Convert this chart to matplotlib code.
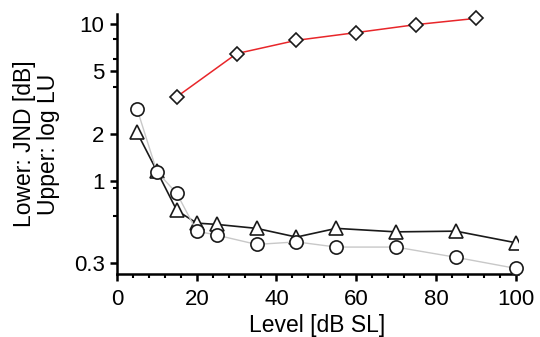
import numpy as np
import matplotlib
matplotlib.use("Agg")
import matplotlib.pyplot as plt

plt.rcParams['font.family'] = ['Liberation Sans', 'DejaVu Sans']

# Data
level_upper = [15, 30, 45, 60, 75, 90]
log_lu = [3.45, 6.5, 7.9, 8.85, 9.95, 10.9]

level_lower = [5, 10, 15, 20, 25, 35, 45, 55, 70, 85, 100]
jnd_triangle = [2.05, 1.16, 0.65, 0.54, 0.53, 0.50, 0.44, 0.50, 0.475, 0.48, 0.405]
jnd_circle = [2.90, 1.15, 0.835, 0.48, 0.453, 0.395, 0.41, 0.38, 0.38, 0.327, 0.278]

y_ticks = [0.3, 1, 2, 5, 10]
y_tick_labels = ["0.3", "1", "2", "5", "10"]
y_minor = [0.6, 0.9, 4, 6, 8]
x_ticks = [0, 20, 40, 60, 80, 100]

fig = plt.figure(figsize=(5.4, 3.37), dpi=100)
ax = fig.add_axes([0.2167, 0.187, 0.742, 0.771])

# Kurva bawah (JND)
ax.plot(level_lower, jnd_triangle, color='#1a1a1a', lw=1.2, marker='^', ms=9.5,
        mfc='white', mec='#1a1a1a', mew=1.2, zorder=3)
ax.plot(level_lower, jnd_circle, color='#c8c8c8', lw=1.0, marker='o', ms=9.5,
        mfc='white', mec='#1a1a1a', mew=1.2, zorder=4, clip_on=False)

# Kurva atas (log LU)
ax.plot(level_upper, log_lu, color='#e8262a', lw=1.1, marker='D', ms=7.5,
        mfc='white', mec='#1a1a1a', mew=1.2, zorder=5, clip_on=False)

ax.set_yscale('log')
ax.set_ylim(0.256, 11.6)
ax.set_xlim(0, 100.5)

ax.set_yticks(y_ticks)
ax.set_yticklabels(y_tick_labels)
ax.set_yticks(y_minor, minor=True)
ax.set_yticklabels([], minor=True)
ax.set_xticks(x_ticks)
ax.set_xticks(np.arange(0, 101, 4), minor=True)

for side in ['top', 'right']:
    ax.spines[side].set_visible(False)
for side in ['left', 'bottom']:
    ax.spines[side].set_linewidth(1.8)

ax.tick_params(which='major', direction='out', length=5, width=1.8, labelsize=16, pad=4)
ax.tick_params(axis='x', which='major', pad=6)
ax.tick_params(which='minor', direction='out', length=3, width=1.5)

ax.set_xlabel("Level [dB SL]", fontsize=16.5, labelpad=3)
ax.set_ylabel("Lower: JND [dB]\nUpper: log LU", fontsize=16.5, labelpad=10, linespacing=1.05)

fig.savefig("out.png", dpi=100)
